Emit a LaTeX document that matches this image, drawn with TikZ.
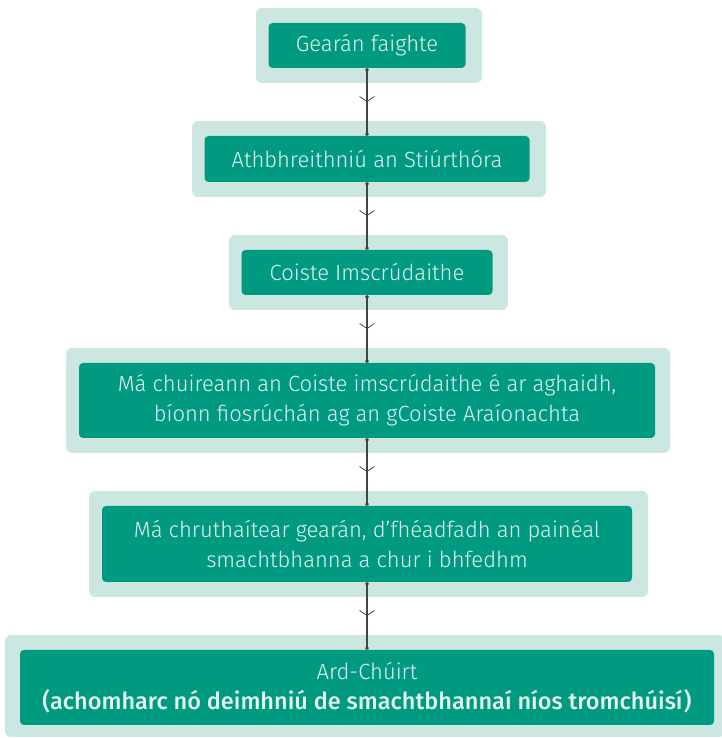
\documentclass[tikz,border=0pt]{standalone}
\usepackage{fontspec}
\setmainfont{Fira Sans}[UprightFont=* Light, BoldFont=* Medium]
\usetikzlibrary{arrows.meta,decorations.markings}
\definecolor{teal1}{HTML}{009A80}
\definecolor{pale}{HTML}{CCE6E1}
\definecolor{txt}{HTML}{E3F3EF}
\definecolor{linegray}{HTML}{444444}

\begin{document}
\begin{tikzpicture}[x=1pt, y=1pt,
    outer/.style = {fill=pale, rounded corners=6pt, inner sep=0pt},
    main/.style = {fill=teal1, text=txt, rounded corners=4pt, align=center, inner sep=0pt,
                   font=\fontsize{22}{30}\selectfont},
    link/.style = {draw=linegray, line width=1.1pt, {Circle[length=3.5pt]}-{Circle[length=3.5pt]},
                   postaction={decorate},
                   decoration={markings, mark=at position 0.5 with {\arrow[line width=0.8pt]{Straight Barb[length=5pt,width=15pt]}}}}]
    \useasboundingbox (0,0) rectangle (721,738);
    % pale frames
    \node[outer, minimum width=226pt, minimum height=75pt] (o1) at (369,692.5) {};
    \node[outer, minimum width=354pt, minimum height=76pt] (o2) at (369,579) {};
    \node[outer, minimum width=279pt, minimum height=75pt] (o3) at (368.5,465.5) {};
    \node[outer, minimum width=604pt, minimum height=105pt] (o4) at (368,337.5) {};
    \node[outer, minimum width=559pt, minimum height=106pt] (o5) at (368.5,194) {};
    \node[outer, minimum width=720pt, minimum height=102pt] (o6) at (365,52) {};
    % steps
    \node[main, minimum width=197pt, minimum height=45pt] (1) at (367,692.5) {Gearán faighte};
    \node[main, minimum width=325pt, minimum height=46pt] (2) at (367,579) {Athbhreithniú an Stiúrthóra};
    \node[main, minimum width=251pt, minimum height=45pt] (3) at (367,465.5) {Coiste Imscrúdaithe};
    \node[main, minimum width=576pt, minimum height=75pt] (4) at (367,337.5)
        {Má chuireann an Coiste imscrúdaithe é ar aghaidh,\\bíonn fiosrúchán ag an gCoiste Araíonachta};
    \node[main, minimum width=530pt, minimum height=76pt] (5) at (367,194)
        {Má chruthaítear gearán, d’fhéadfadh an painéal\\smachtbhanna a chur i bhfedhm};
    \node[main, minimum width=694pt, minimum height=75pt] (6) at (367,50.5)
        {Ard-Chúirt\\{\fontsize{23.5}{30}\selectfont\bfseries(achomharc nó deimhniú de smachtbhannaí níos tromchúisí)}};
    \draw[link] (1.south) -- (2.north);
    \draw[link] (2.south) -- (3.north);
    \draw[link] (3.south) -- (4.north);
    \draw[link] (4.south) -- (5.north);
    \draw[link] (5.south) -- (6.north);
\end{tikzpicture}
\end{document}
